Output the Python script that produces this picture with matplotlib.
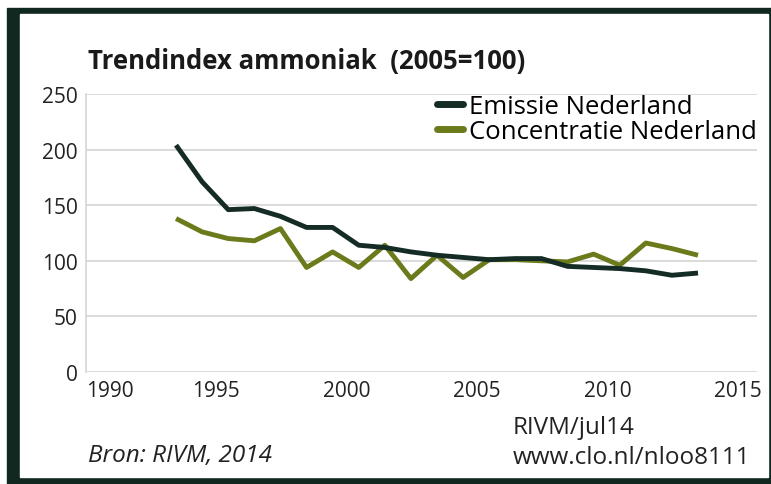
import matplotlib
matplotlib.use("Agg")
import matplotlib.pyplot as plt
import matplotlib.transforms as mtransforms
from matplotlib.patches import Rectangle

plt.rcParams["font.family"] = ["Open Sans", "DejaVu Sans"]

# gegevens
jaren = list(range(1993, 2014))
emissie = [204, 171, 146, 147, 140, 130, 130, 114, 112, 108, 105,
           103, 101, 102, 102, 95, 94, 93, 91, 87, 89]
concentratie = [138, 126, 120, 118, 129, 94, 108, 94, 114, 84, 105,
                85, 101, 101, 100, 99, 106, 96, 116, 111, 105]
x_ticks = [1990, 1995, 2000, 2005, 2010, 2015]
y_ticks = [0, 50, 100, 150, 200, 250]

kleur_emissie = "#152c26"
kleur_conc = "#6b7b1c"
kleur_rand = "#10281f"
kleur_tekst = "#222222"

fig = plt.figure(figsize=(7.71, 4.85), dpi=100)
W, H = 771, 485

# donkere rand om de figuur
fig.add_artist(Rectangle((7 / W, 0), 1 - 7 / W, 1 - 9 / H,
                         transform=fig.transFigure, color=kleur_rand, zorder=0))
fig.add_artist(Rectangle((20 / W, 7 / H), (768 - 20) / W, (470 - 7) / H,
                         transform=fig.transFigure, color="white", zorder=0))

ax = fig.add_axes([86 / W, 1 - 373 / H, (757 - 86) / W, (373 - 95) / H])
ax.set_facecolor("none")

ax.plot(jaren, emissie, color=kleur_emissie, lw=3.5, solid_joinstyle="round",
        solid_capstyle="butt", label="Emissie Nederland", zorder=4)
ax.plot(jaren, concentratie, color=kleur_conc, lw=3.5, solid_joinstyle="round",
        solid_capstyle="butt", label="Concentratie Nederland", zorder=3)

ax.set_xlim(1989.55, 2015.26)
ax.set_ylim(0, 250)
ax.set_yticks(y_ticks)
ax.set_xticks(x_ticks)
ax.grid(axis="y", color="#d4d4d4", lw=1.2)
ax.set_axisbelow(True)
for s in ["top", "right", "bottom"]:
    ax.spines[s].set_visible(False)
ax.spines["left"].set_color("#d4d4d4")
ax.spines["left"].set_linewidth(1.2)
ax.tick_params(length=0, labelsize=15, colors=kleur_tekst)
ax.tick_params(axis="y", pad=6)
ax.tick_params(axis="x", pad=6)

# labels van de x-as iets verschuiven zoals in het origineel
for lab in ax.get_xticklabels():
    dx = 12 if lab.get_text() == "1990" else -12
    lab.set_transform(lab.get_transform() +
                      mtransforms.ScaledTranslation(dx / 100, 0, fig.dpi_scale_trans))

leg = ax.legend(loc="upper right", bbox_to_anchor=(1.0, 1.0), frameon=False,
                fontsize=18.5, handlelength=1.0, handletextpad=0.25,
                labelspacing=0.0, borderaxespad=0, borderpad=0)
for h in leg.get_lines():
    h.set_linewidth(5)
    h.set_solid_capstyle("round")

fig.text(88 / W, 1 - 61 / H, "Trendindex ammoniak  (2005=100)", fontsize=18.5,
         fontweight="bold", va="center", ha="left", color="#1a1a1a")
fig.text(88 / W, 1 - 456 / H, "Bron: RIVM, 2014", fontsize=17.5, style="italic",
         va="center", ha="left", color=kleur_tekst)
fig.text(513 / W, 1 - 428 / H, "RIVM/jul14", fontsize=17.5,
         va="center", ha="left", color=kleur_tekst)
fig.text(513 / W, 1 - 458 / H, "www.clo.nl/nloo8111", fontsize=17.5,
         va="center", ha="left", color=kleur_tekst)

fig.savefig("out.png", dpi=100)
